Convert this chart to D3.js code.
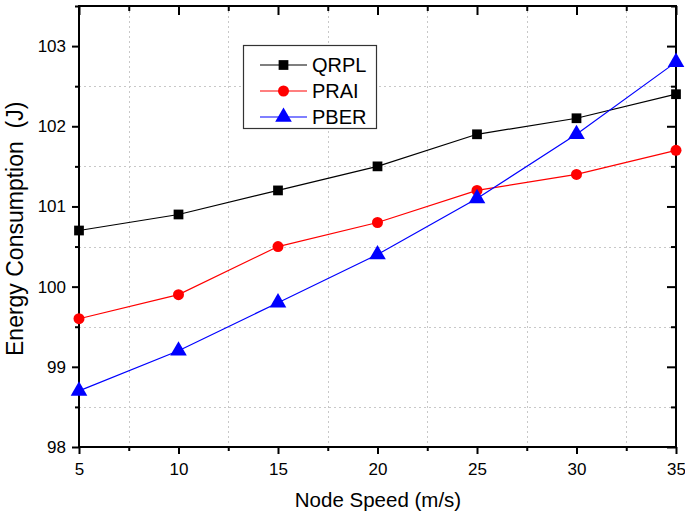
<!DOCTYPE html>
<html>
<head>
<meta charset="utf-8">
<script src="https://cdn.jsdelivr.net/npm/d3@7"></script>
<style>
  html, body { margin: 0; padding: 0; background: #fff; }
  svg { display: block; font-family: Arial, "Liberation Sans", sans-serif; }
</style>
</head>
<body>
<svg id="chart" width="685" height="515"></svg>
<script>
// Node speed (m/s) on the x axis
const speeds = [5, 10, 15, 20, 25, 30, 35];
// Energy consumption (J) per protocol
const qrpl = [100.7, 100.9, 101.2, 101.5, 101.9, 102.1, 102.4];
const prai = [99.6, 99.9, 100.5, 100.8, 101.2, 101.4, 101.7];
const pber = [98.7, 99.2, 99.8, 100.4, 101.1, 101.9, 102.8];
const seriesNames = ["QRPL", "PRAI", "PBER"];
const xTicks = [5, 10, 15, 20, 25, 30, 35];
const yTicks = [98, 99, 100, 101, 102, 103];

const svg = d3.select("#chart");
const L = 79, R = 676, T = 6, B = 447;

const x = d3.scaleLinear().domain([5, 35]).range([L, R]);
const y = d3.scaleLinear().domain([98, 103.5]).range([B, T]);

const xMinor = d3.range(7.5, 35, 5);
const yMinor = d3.range(98.5, 103.6, 1);

// dashed grid at the minor positions
const grid = svg.append("g").attr("stroke", "#c8c8c8").attr("stroke-width", 1)
  .attr("stroke-dasharray", "2,3");
grid.selectAll("line.v").data(xMinor).join("line")
  .attr("x1", d => Math.round(x(d)) + 0.5).attr("x2", d => Math.round(x(d)) + 0.5)
  .attr("y1", T).attr("y2", B);
grid.selectAll("line.h").data(yMinor.filter(d => d < 103.5)).join("line")
  .attr("y1", d => Math.round(y(d)) + 0.5).attr("y2", d => Math.round(y(d)) + 0.5)
  .attr("x1", L).attr("x2", R);

// axes: bottom/left ticks outward, top/right mirrored ticks inward
function styleAxis(g) {
  g.select(".domain").remove();
  g.selectAll(".tick line").attr("stroke", "#000").attr("stroke-width", 2);
  g.selectAll("text").attr("fill", "#000").attr("font-size", 17);
}
const xAxis = svg.append("g").attr("transform", `translate(0,${B})`)
  .call(d3.axisBottom(x).tickValues(xTicks).tickSize(7).tickPadding(9).tickFormat(d3.format("d")));
styleAxis(xAxis);
const xAxisMinor = svg.append("g").attr("transform", `translate(0,${B})`)
  .call(d3.axisBottom(x).tickValues(xMinor).tickSize(4).tickFormat(""));
styleAxis(xAxisMinor);
const yAxis = svg.append("g").attr("transform", `translate(${L},0)`)
  .call(d3.axisLeft(y).tickValues(yTicks).tickSize(7).tickPadding(6).tickFormat(d3.format("d")));
styleAxis(yAxis);
const yAxisMinor = svg.append("g").attr("transform", `translate(${L},0)`)
  .call(d3.axisLeft(y).tickValues(yMinor).tickSize(4).tickFormat(""));
styleAxis(yAxisMinor);
const xTop = svg.append("g").attr("transform", `translate(0,${T})`)
  .call(d3.axisTop(x).tickValues(xTicks).tickSize(-9).tickFormat(""));
styleAxis(xTop);
const xTopMinor = svg.append("g").attr("transform", `translate(0,${T})`)
  .call(d3.axisTop(x).tickValues(xMinor).tickSize(-5).tickFormat(""));
styleAxis(xTopMinor);
const yRight = svg.append("g").attr("transform", `translate(${R},0)`)
  .call(d3.axisRight(y).tickValues(yTicks).tickSize(-9).tickFormat(""));
styleAxis(yRight);
const yRightMinor = svg.append("g").attr("transform", `translate(${R},0)`)
  .call(d3.axisRight(y).tickValues(yMinor).tickSize(-5).tickFormat(""));
styleAxis(yRightMinor);

// frame
svg.append("rect").attr("x", L).attr("y", T).attr("width", R - L).attr("height", B - T)
  .attr("fill", "none").attr("stroke", "#000").attr("stroke-width", 2);

// series
const colors = ["#000000", "#ff0000", "#0000ff"];
const shapes = [d3.symbolSquare, d3.symbolCircle, d3.symbolTriangle];
const sizes = [95, 95, 120];
const allSeries = [qrpl, prai, pber];

const plot = svg.append("g");
const line = d3.line().x((d, i) => x(speeds[i])).y(d => y(d));
allSeries.forEach((vals, s) => {
  plot.append("path").datum(vals).attr("d", line)
    .attr("fill", "none").attr("stroke", colors[s]).attr("stroke-width", 1.2);
  plot.selectAll(null).data(vals).join("path")
    .attr("transform", (d, i) => `translate(${x(speeds[i])},${y(d)})`)
    .attr("d", d3.symbol().type(shapes[s]).size(sizes[s]))
    .attr("fill", colors[s]);
});

// legend
const lg = svg.append("g");
lg.append("rect").attr("x", 243.5).attr("y", 45.5).attr("width", 133).attr("height", 83)
  .attr("fill", "#fff").attr("stroke", "#333").attr("stroke-width", 1.2);
seriesNames.forEach((name, s) => {
  const cy = 65 + s * 26;
  lg.append("line").attr("x1", 260).attr("x2", 307).attr("y1", cy).attr("y2", cy)
    .attr("stroke", colors[s]).attr("stroke-width", 1.2);
  lg.append("path").attr("transform", `translate(283.5,${cy})`)
    .attr("d", d3.symbol().type(shapes[s]).size(sizes[s])).attr("fill", colors[s]);
  lg.append("text").attr("x", 312).attr("y", cy).attr("dy", "0.36em")
    .attr("font-size", 20).attr("fill", "#000").text(name);
});

// axis titles
svg.append("text").attr("x", 378).attr("y", 507).attr("text-anchor", "middle")
  .attr("font-size", 20.5).attr("fill", "#000").text("Node Speed (m/s)");
svg.append("text").attr("transform", `translate(23,356) rotate(-90)`)
  .attr("text-anchor", "start").attr("font-size", 23).attr("fill", "#000")
  .attr("xml:space", "preserve")
  .text("Energy Consumption  (J)");
</script>
</body>
</html>
